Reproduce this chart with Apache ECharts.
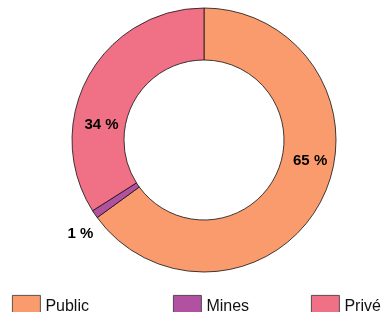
<!DOCTYPE html>
<html>
<head>
<meta charset="utf-8">
<script src="https://cdn.jsdelivr.net/npm/echarts@6/dist/echarts.min.js"></script>
<style>
  html, body { margin: 0; padding: 0; background: #fff; }
  #main { width: 383px; height: 312px; }
</style>
</head>
<body>
<div id="main"></div>
<script>
// données
var categories = ['Public', 'Mines', 'Privé'];
var values = [65, 1, 34];
var colors = ['#F99B6D', '#B1519F', '#F07186'];

var myChart = echarts.init(document.getElementById('main'));

var pieData = [];
for (var i = 0; i < categories.length; i++) {
    pieData.push({
        name: categories[i],
        value: values[i],
        itemStyle: { color: colors[i] },
        // la petite part a son étiquette à l'extérieur
        label: values[i] < 5 ? { position: 'outside' } : { position: 'inside' }
    });
}

// décalages des étiquettes par rapport à leur place par défaut
var labelShift = [[9, -29], [46, 11], [-7, 37]];

function legendFor(i, left) {
    return {
        data: [categories[i]],
        left: left,
        top: 295,
        padding: 0,
        itemWidth: 28,
        itemHeight: 22,
        itemGap: 0,
        icon: 'rect',
        itemStyle: { borderColor: '#333', borderWidth: 0.8 },
        textStyle: { fontFamily: 'Liberation Sans', fontSize: 16, color: '#111' }
    };
}

var option = {
    animation: false,
    backgroundColor: '#fff',
    legend: [legendFor(0, 12), legendFor(1, 173), legendFor(2, 311)],
    series: [
        {
            type: 'pie',
            center: [204, 140],
            radius: [80, 132],
            startAngle: 90,
            clockwise: true,
            data: pieData,
            itemStyle: { borderColor: '#111', borderWidth: 0.8 },
            label: {
                show: true,
                formatter: '{c} %',
                fontFamily: 'Liberation Sans',
                fontWeight: 'bold',
                fontSize: 15,
                color: '#000'
            },
            labelLine: { show: false },
            labelLayout: function (params) {
                var s = labelShift[params.dataIndex];
                return { dx: s[0], dy: s[1] };
            },
            emphasis: { disabled: true }
        }
    ]
};
myChart.setOption(option);
</script>
</body>
</html>
